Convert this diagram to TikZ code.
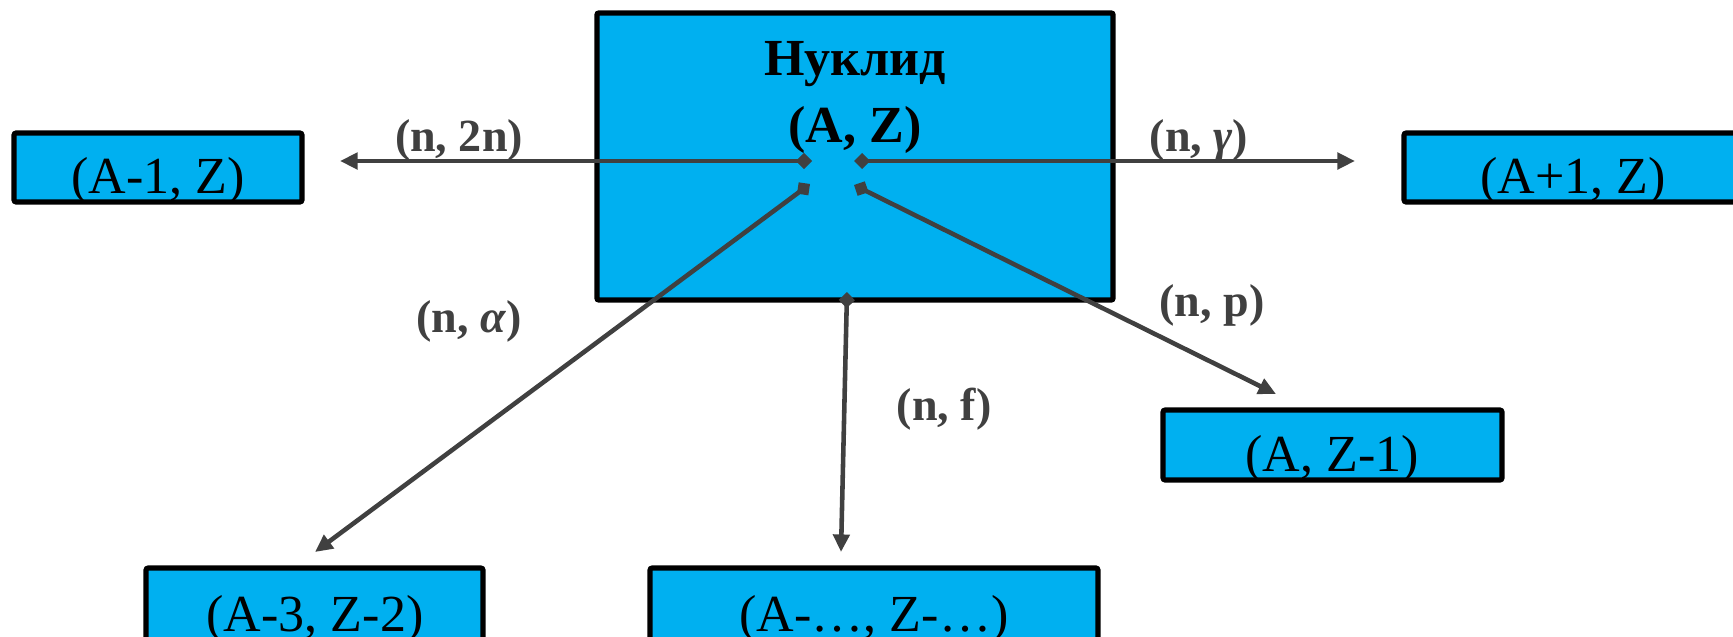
\documentclass[tikz,border=0pt]{standalone}
\usepackage{fontspec}
\setmainfont{Liberation Serif}
\usetikzlibrary{arrows.meta,fit}
\definecolor{boxblue}{HTML}{00B0F0}
\definecolor{arrgray}{HTML}{404040}
\begin{document}
\begin{tikzpicture}[x=0.01cm,y=-0.01cm,
  box/.style={draw=black, line width=1.45pt, fill=boxblue, inner sep=0pt, rounded corners=0.6pt},
  mainbox/.style={box, line width=1.55pt},
  boxtext/.style={anchor=base, inner sep=0pt, text=black, font=\fontsize{14.8pt}{17pt}\selectfont},
  titletext/.style={anchor=base, inner sep=0pt, text=black, align=center, font=\fontsize{14.8pt}{18.8pt}\selectfont\bfseries},
  lbl/.style={anchor=base, inner sep=0pt, text=arrgray, font=\fontsize{13.1pt}{15pt}\selectfont\bfseries},
  conn/.style={draw=arrgray, line width=1.3pt, {Diamond[length=4.6pt,width=4.6pt]}-{Triangle[length=5pt,width=4.6pt]}}
]
\useasboundingbox (0,0) rectangle (1733,636);
% boxes
\node[mainbox, fit={(597,13)(1113,300)}] (main) {};
\node[box, fit={(14,133)(302,202)}] (bl) {};
\node[box, fit={(1404,133)(1742,202)}] (br) {};
\node[box, fit={(1163,410)(1502,480)}] (bp) {};
\node[box, fit={(146,568)(483,720)}] (ba) {};
\node[box, fit={(650,568)(1098,720)}] (bf) {};
% texts
\node[titletext] (title) at (855,142) {Нуклид\\(A, Z)};
\node[boxtext] (tl) at (158,193) {(A-1, Z)};
\node[boxtext] (tr) at (1573,193) {(A+1, Z)};
\node[boxtext] (tp) at (1332,471) {(A, Z-1)};
\node[boxtext] (ta) at (315,631) {(A-3, Z-2)};
\node[boxtext] (tf) at (874,631) {(A-…, Z-…)};
% connector endpoints
\coordinate (s2n) at (812,161);
\coordinate (e2n) at (340,161);
\coordinate (sg) at (854,161);
\coordinate (eg) at (1355,161);
\coordinate (sa) at (810,184);
\coordinate (ea) at (315,552);
\coordinate (sf) at (847,292);
\coordinate (ef) at (841,552);
\coordinate (sp) at (854,185);
\coordinate (ep) at (1276,394);
\draw[conn] (s2n) -- (e2n);
\draw[conn] (sg) -- (eg);
\draw[conn] (sa) -- (ea);
\draw[conn] (sf) -- (ef);
\draw[conn] (sp) -- (ep);
% labels
\node[lbl] (l2n) at (459,151) {(n, 2n)};
\node[lbl] (lg) at (1199,151) {(n, \textit{γ})};
\node[lbl] (la) at (469,332) {(n, \textit{α})};
\node[lbl] (lp) at (1212,316) {(n, p)};
\node[lbl] (lf) at (944,420) {(n, f)};
\end{tikzpicture}
\end{document}
